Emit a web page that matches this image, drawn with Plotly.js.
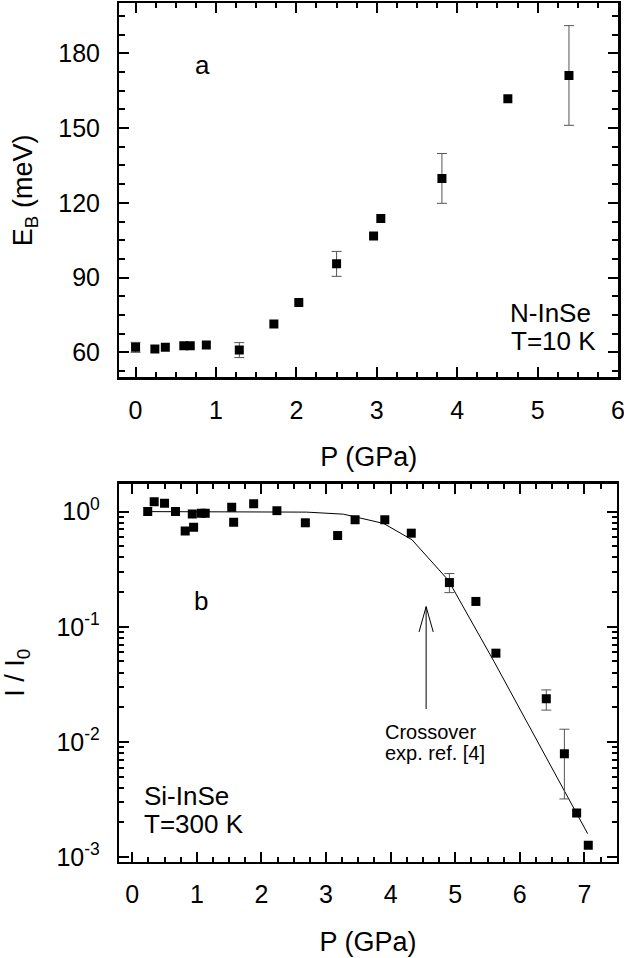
<!DOCTYPE html>
<html>
<head>
<meta charset="utf-8">
<script src="https://cdn.plot.ly/plotly-3.0.1.min.js"></script>
<style>html,body{margin:0;padding:0;background:#fff;}#chart{width:624px;height:958px;}</style>
</head>
<body>
<div id="chart"></div>
<script>
// Panel a: N-InSe, T=10 K
const pressureA = [0, 0.24, 0.37, 0.6, 0.68, 0.88, 1.29, 1.72, 2.03, 2.5, 2.96, 3.05, 3.81, 4.63, 5.39];
const bindingEnergyA = [62.0, 61.3, 62.0, 62.6, 62.6, 62.9, 60.9, 71.4, 80.0, 95.5, 106.7, 113.7, 129.8, 161.8, 171.1];
const errorA = [2, NaN, NaN, NaN, NaN, NaN, 3, NaN, NaN, 5, NaN, NaN, 10, NaN, 20];

// Panel b: Si-InSe, T=300 K
const pressureB = [0.24, 0.34, 0.50, 0.67, 0.82, 0.93, 0.95, 1.07, 1.13, 1.54, 1.57, 1.88, 2.24, 2.68, 3.18, 3.45, 3.91, 4.32, 4.91, 5.32, 5.63, 6.41, 6.69, 6.88, 7.06];
const intensityB = [1.0, 1.22, 1.18, 1.0, 0.68, 0.955, 0.73, 0.97, 0.97, 1.09, 0.81, 1.17, 1.02, 0.80, 0.62, 0.85, 0.85, 0.65, 0.242, 0.166, 0.059, 0.0237, 0.0079, 0.00241, 0.00127];
const errPlusB = [NaN, NaN, NaN, NaN, NaN, NaN, NaN, NaN, NaN, NaN, NaN, NaN, NaN, NaN, NaN, NaN, NaN, NaN, 0.048, NaN, NaN, 0.0046, 0.005, NaN, NaN];
const errMinusB = [NaN, NaN, NaN, NaN, NaN, NaN, NaN, NaN, NaN, NaN, NaN, NaN, NaN, NaN, NaN, NaN, NaN, NaN, 0.044, NaN, NaN, 0.0048, 0.0047, NaN, NaN];

// Fitted curve, panel b
const fitPressure = [0.24, 1, 2, 2.7, 3.27, 3.89, 4.33, 4.89, 5.6, 6.3, 7.05];
const fitIntensity = [1, 1, 1, 0.99, 0.95, 0.79, 0.57, 0.255, 0.05, 0.0095, 0.0016];

// Tick labels, panel b
const logTickVals = [0.001, 0.01, 0.1, 1];
const logTickText = ['10<sup>-3</sup>', '10<sup>-2</sup>', '10<sup>-1</sup>', '10<sup>0</sup>'];

// Crossover arrow (pressure in GPa, I/I0 for tip, tail and head ends)
const arrowP = 4.55;
const arrowTip = 0.1496;
const arrowTail = 0.0193;
const arrowHeadEnd = 0.0902;
const arrowHeadHalfWidthP = 0.11;

const FONT = 'Liberation Sans, Arial, Helvetica, sans-serif';

const traces = [
  {
    x: pressureA, y: bindingEnergyA, xaxis: 'x', yaxis: 'y',
    type: 'scatter', mode: 'markers',
    marker: {symbol: 'square', size: 9, color: '#000'},
    error_y: {type: 'data', array: errorA, visible: true, color: '#555', thickness: 1, width: 5},
    showlegend: false, hoverinfo: 'x+y'
  },
  {
    x: fitPressure, y: fitIntensity, xaxis: 'x2', yaxis: 'y2',
    type: 'scatter', mode: 'lines',
    line: {color: '#000', width: 1},
    showlegend: false, hoverinfo: 'skip'
  },
  {
    x: pressureB, y: intensityB, xaxis: 'x2', yaxis: 'y2',
    type: 'scatter', mode: 'markers',
    marker: {symbol: 'square', size: 9, color: '#000'},
    error_y: {type: 'data', symmetric: false, array: errPlusB, arrayminus: errMinusB, visible: true, color: '#555', thickness: 1, width: 5},
    showlegend: false, hoverinfo: 'x+y'
  }
];

const axisCommon = {
  showline: true, linecolor: '#000', linewidth: 2.5, mirror: 'ticks',
  ticks: 'inside', ticklen: 10, tickwidth: 2, tickcolor: '#000',
  showgrid: false, zeroline: false, ticklabeloverflow: 'allow',
  tickfont: {family: FONT, size: 25, color: '#000'}
};

const lineStyle = {color: '#000', width: 1};

const layout = {
  width: 624, height: 958,
  margin: {l: 0, r: 0, t: 0, b: 0},
  paper_bgcolor: '#fff', plot_bgcolor: '#fff',
  font: {family: FONT, color: '#000'},
  xaxis: Object.assign({}, axisCommon, {
    domain: [0.1915, 0.9904], anchor: 'y',
    range: [-0.2, 6], dtick: 1, tick0: 0,
    ticklabelstandoff: 9,
    minor: {ticks: 'inside', ticklen: 5, tickwidth: 2, tickcolor: '#000', dtick: 0.25, tick0: 0, showgrid: false},
    title: {text: 'P (GPa)', font: {family: FONT, size: 27, color: '#000'}, standoff: 25}
  }),
  yaxis: Object.assign({}, axisCommon, {
    domain: [0.6062, 0.9964], anchor: 'x',
    range: [50, 200], dtick: 30, tick0: 0,
    ticklabelstandoff: 12,
    minor: {ticks: 'inside', ticklen: 6, tickwidth: 2, tickcolor: '#000', dtick: 7.5, tick0: 0, showgrid: false},
    title: {text: 'E<sub>B</sub> (meV)', font: {family: FONT, size: 27, color: '#000'}, standoff: 18}
  }),
  xaxis2: Object.assign({}, axisCommon, {
    domain: [0.1912, 0.9883], anchor: 'y2',
    range: [-0.2, 7.5], dtick: 1, tick0: 0,
    ticklabelstandoff: 9,
    minor: {ticks: 'inside', ticklen: 5, tickwidth: 2, tickcolor: '#000', dtick: 0.25, tick0: 0, showgrid: false},
    title: {text: 'P (GPa)', font: {family: FONT, size: 27, color: '#000'}, standoff: 25}
  }),
  yaxis2: Object.assign({}, axisCommon, {
    domain: [0.1005, 0.4948], anchor: 'x2',
    type: 'log', range: [-3.04, 0.24],
    tickmode: 'array', tickvals: logTickVals, ticktext: logTickText,
    ticklabelstandoff: 12,
    minor: {ticks: 'inside', ticklen: 5, tickwidth: 2, tickcolor: '#000', dtick: 'D1', showgrid: false},
    title: {text: 'I / I<sub>0</sub>', font: {family: FONT, size: 27, color: '#000'}, standoff: 26}
  }),
  shapes: [
    {type: 'line', xref: 'x2', yref: 'y2', x0: arrowP, x1: arrowP, y0: arrowTip, y1: arrowTail, line: lineStyle},
    {type: 'line', xref: 'x2', yref: 'y2', x0: arrowP, x1: arrowP - arrowHeadHalfWidthP, y0: arrowTip, y1: arrowHeadEnd, line: lineStyle},
    {type: 'line', xref: 'x2', yref: 'y2', x0: arrowP, x1: arrowP + arrowHeadHalfWidthP, y0: arrowTip, y1: arrowHeadEnd, line: lineStyle}
  ],
  annotations: [
    {xref: 'x', yref: 'y', x: 0.83, y: 175.5, text: 'a', showarrow: false, xanchor: 'center', yanchor: 'middle', font: {family: FONT, size: 26, color: '#000'}},
    {xref: 'x', yref: 'y', x: 4.63, y: 75.7, text: 'N-InSe', showarrow: false, xanchor: 'left', yanchor: 'middle', font: {family: FONT, size: 26, color: '#000'}},
    {xref: 'x', yref: 'y', x: 4.65, y: 64.5, text: 'T=10 K', showarrow: false, xanchor: 'left', yanchor: 'middle', font: {family: FONT, size: 26, color: '#000'}},
    {xref: 'x2', yref: 'y2', x: 1.07, y: -0.78, text: 'b', showarrow: false, xanchor: 'center', yanchor: 'middle', font: {family: FONT, size: 26, color: '#000'}},
    {xref: 'x2', yref: 'y2', x: 0.155, y: -2.472, text: 'Si-InSe', showarrow: false, xanchor: 'left', yanchor: 'middle', font: {family: FONT, size: 26, color: '#000'}},
    {xref: 'x2', yref: 'y2', x: 0.155, y: -2.715, text: 'T=300 K', showarrow: false, xanchor: 'left', yanchor: 'middle', font: {family: FONT, size: 26, color: '#000'}},
    {xref: 'x2', yref: 'y2', x: 3.88, y: -1.912, text: 'Crossover', showarrow: false, xanchor: 'left', yanchor: 'middle', font: {family: FONT, size: 20, color: '#000'}},
    {xref: 'x2', yref: 'y2', x: 3.88, y: -2.095, text: 'exp. ref. [4]', showarrow: false, xanchor: 'left', yanchor: 'middle', font: {family: FONT, size: 20, color: '#000'}}
  ]
};

Plotly.newPlot('chart', traces, layout, {staticPlot: true, displayModeBar: false});
</script>
</body>
</html>
